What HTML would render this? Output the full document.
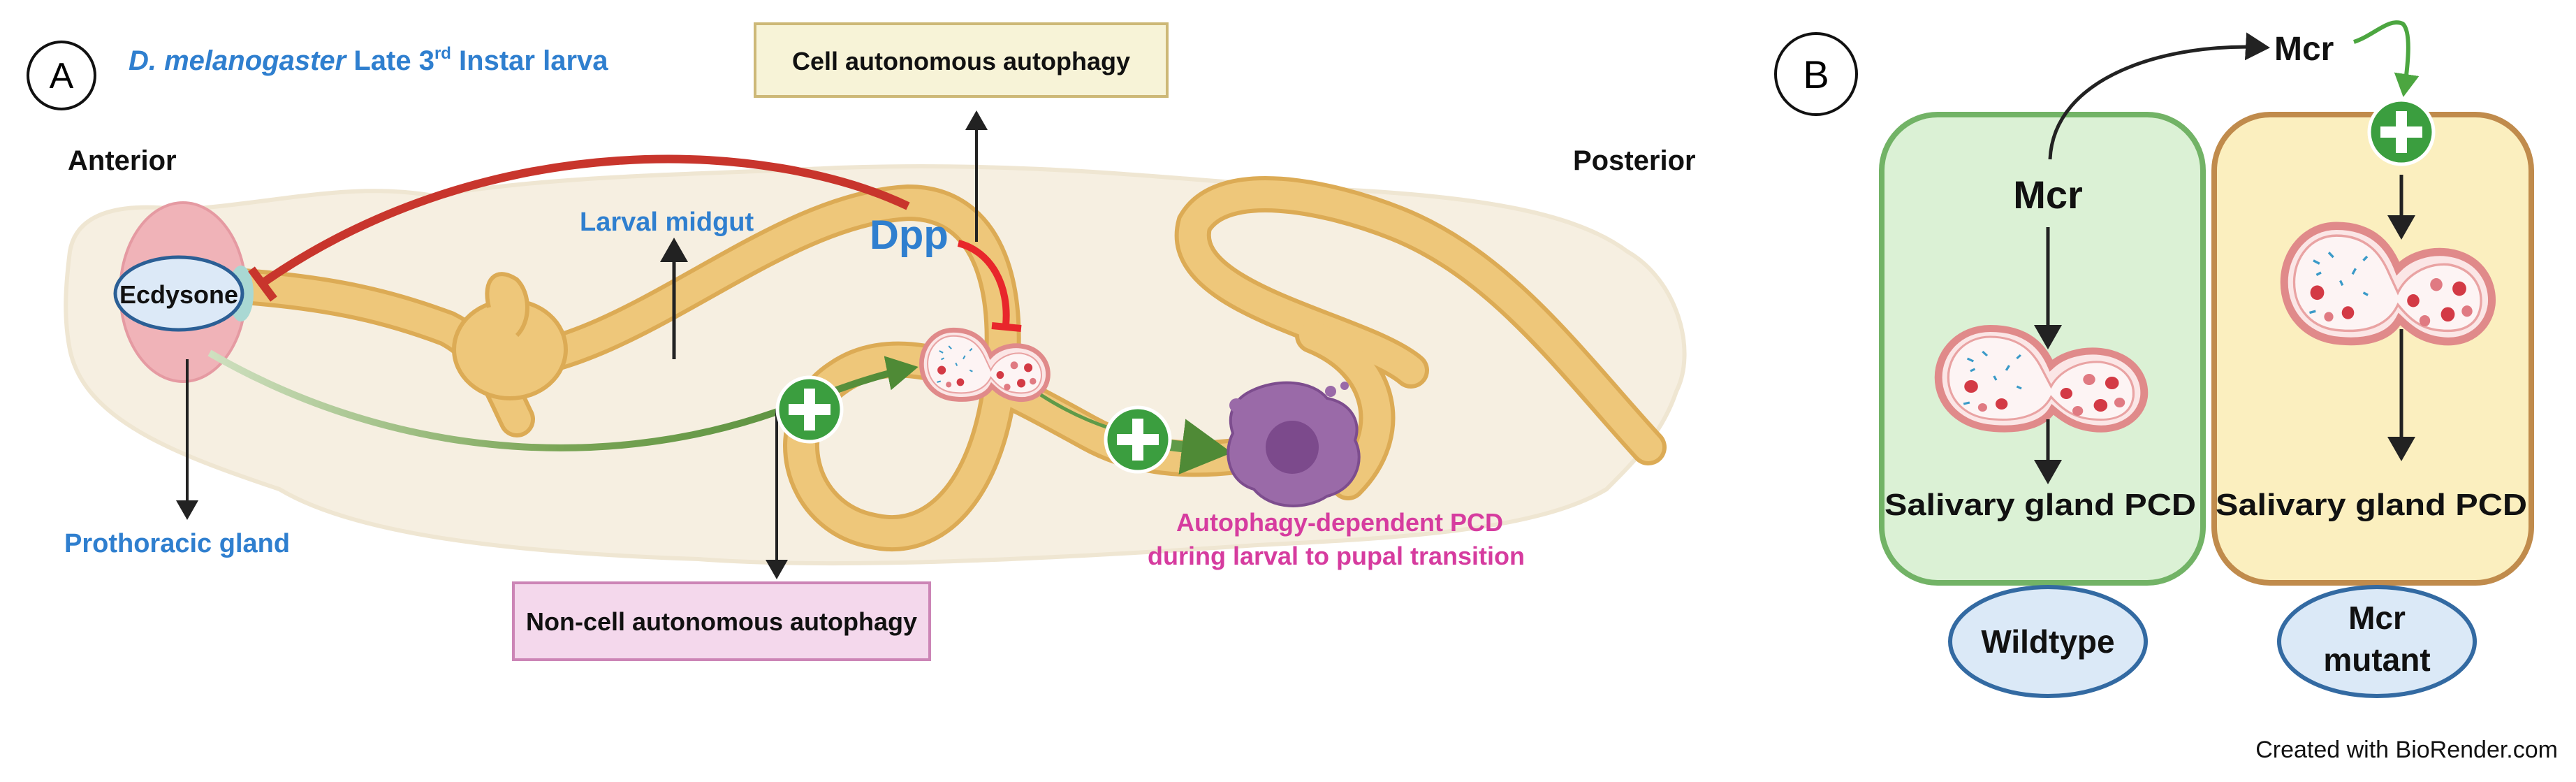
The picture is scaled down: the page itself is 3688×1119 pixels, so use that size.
<!DOCTYPE html>
<html><head><meta charset="utf-8"><style>
html,body{margin:0;padding:0;background:#fff;}
svg{display:block;}
text{font-family:"Liberation Sans",sans-serif;font-weight:bold;}
</style></head><body>
<svg width="3688" height="1119" viewBox="0 0 3688 1119" xmlns="http://www.w3.org/2000/svg">
<defs>
<marker id="ab" markerWidth="8" markerHeight="8" refX="6" refY="4" orient="auto" markerUnits="strokeWidth"><path d="M0,0 L7,4 L0,8 z" fill="#222"/></marker>
<marker id="ag" markerWidth="5" markerHeight="5" refX="3" refY="2.5" orient="auto" markerUnits="strokeWidth"><path d="M0,0 L4.5,2.5 L0,5 z" fill="#4f8a36"/></marker>
<marker id="agl" markerWidth="6" markerHeight="6" refX="4" refY="3" orient="auto" markerUnits="strokeWidth"><path d="M0,0 L5.5,3 L0,6 z" fill="#4ca640"/></marker>
<linearGradient id="gg" x1="0" x2="1" y1="0" y2="0"><stop offset="0" stop-color="#cfe0c0"/><stop offset="0.5" stop-color="#7aa556"/><stop offset="1" stop-color="#4f8a36"/></linearGradient>
<g id="gland">
<path d="M70,2 C120,2 140,30 150,55 C165,40 190,32 215,35 C255,40 275,70 272,100 C268,130 240,150 205,145 C180,142 165,130 152,118 C140,140 110,148 75,145 C30,142 2,110 2,72 C2,35 30,2 70,2 z" fill="#fbe6e6" stroke="#e08a8a" stroke-width="10"/>
<path d="M70,14 C110,14 128,38 138,60 L150,85 C160,65 185,48 215,50 C248,55 260,78 258,100 C255,125 235,135 205,132 C180,130 165,118 150,100 C138,125 110,135 75,132 C38,130 15,105 15,72 C15,40 38,14 70,14 z" fill="#fdf4f4" stroke="#e9a3a3" stroke-width="3"/>
<circle cx="45" cy="85" r="9" fill="#d33a45"/><circle cx="85" cy="110" r="8" fill="#d33a45"/><circle cx="60" cy="115" r="6" fill="#e07a82"/>
<circle cx="170" cy="95" r="8" fill="#d33a45"/><circle cx="200" cy="75" r="8" fill="#e07a82"/><circle cx="230" cy="80" r="9" fill="#d33a45"/><circle cx="215" cy="112" r="9" fill="#d33a45"/><circle cx="240" cy="108" r="7" fill="#e07a82"/><circle cx="185" cy="120" r="7" fill="#e07a82"/>
<path d="M40,45 l8,4 M60,35 l6,6 M95,55 l-4,7 M35,110 l8,-2 M105,85 l6,3 M75,70 l3,6 M110,40 l-5,5 M50,60 l-6,3" stroke="#3a9ac8" stroke-width="3"/>
</g>
<g id="plus">
<circle r="46" fill="#3b9e3f" stroke="#fff" stroke-width="5"/>
<rect x="-30" y="-8" width="60" height="16" fill="#fff"/><rect x="-8" y="-30" width="16" height="60" fill="#fff"/>
</g>
</defs>

<!-- Panel A -->
<circle cx="88" cy="108" r="48" fill="#fff" stroke="#111" stroke-width="4"/>
<text x="88" y="126" font-size="52" font-weight="normal" text-anchor="middle" style="font-weight:normal">A</text>
<text x="184" y="100" font-size="40" fill="#2f7fcf"><tspan font-style="italic">D. melanogaster</tspan> Late 3<tspan font-size="24" dy="-16">rd</tspan><tspan dy="16"> Instar larva</tspan></text>

<!-- larva body -->
<path d="M100,360 C110,300 180,290 260,300 C400,290 500,260 620,280 C800,250 1000,250 1200,240 C1500,230 1700,260 1900,270 C2100,280 2250,300 2330,360 C2400,400 2430,500 2400,560 C2380,620 2340,660 2300,700 C2200,760 2000,770 1800,780 C1500,800 1200,815 1000,800 C700,790 500,760 400,700 C250,650 120,600 100,500 C90,450 95,400 100,360 z" fill="#f6efe1" stroke="#efe6d2" stroke-width="6"/>

<!-- gut -->
<g fill="none" stroke-linecap="round">
<g stroke="#dcab55" stroke-width="52">
<path d="M350,410 C480,420 560,440 640,470 C700,500 720,560 740,600"/>
<path d="M700,520 C900,520 1100,300 1300,290 C1420,290 1450,420 1430,560 C1410,700 1340,780 1250,760 C1140,740 1110,600 1200,540 C1300,470 1450,560 1560,620 C1650,670 1750,660 1850,640"/>
<path d="M2020,530 C1950,470 1680,430 1710,320 C1750,250 1900,280 2000,320 C2150,380 2250,520 2360,640"/>
<path d="M1880,480 C1980,520 2000,620 1930,690"/>
</g>
<g stroke="#eec77a" stroke-width="40">
<path d="M350,410 C480,420 560,440 640,470 C700,500 720,560 740,600"/>
<path d="M700,520 C900,520 1100,300 1300,290 C1420,290 1450,420 1430,560 C1410,700 1340,780 1250,760 C1140,740 1110,600 1200,540 C1300,470 1450,560 1560,620 C1650,670 1750,660 1850,640"/>
<path d="M2020,530 C1950,470 1680,430 1710,320 C1750,250 1900,280 2000,320 C2150,380 2250,520 2360,640"/>
<path d="M1880,480 C1980,520 2000,620 1930,690"/>
</g>
</g>
<ellipse cx="730" cy="500" rx="80" ry="70" fill="#eec77a" stroke="#dcab55" stroke-width="6"/>
<path d="M700,440 C690,400 710,380 740,400 C760,420 760,460 740,480" fill="#eec77a" stroke="#dcab55" stroke-width="6"/>

<!-- prothoracic gland / ecdysone -->
<ellipse cx="262" cy="418" rx="90" ry="128" fill="#f0b3b8" stroke="#e59aa2" stroke-width="4"/>
<ellipse cx="345" cy="420" rx="18" ry="40" fill="#a9d8d3"/>
<ellipse cx="256" cy="420" rx="91" ry="52" fill="#dce9f7" stroke="#2b5f95" stroke-width="5"/>
<text x="256" y="434" font-size="36" text-anchor="middle" fill="#111">Ecdysone</text>

<text x="97" y="243" font-size="40" fill="#111">Anterior</text>
<text x="2252" y="243" font-size="40" fill="#111">Posterior</text>

<!-- red inhibition long -->
<path d="M1300,295 C1100,200 700,180 376,405" fill="none" stroke="#c8352c" stroke-width="12"/>
<line x1="360" y1="385" x2="392" y2="428" stroke="#c8352c" stroke-width="12"/>
<!-- Dpp -->
<text x="1245" y="356" font-size="58" fill="#2f7fcf">Dpp</text>
<path d="M1372,348 C1420,360 1445,410 1440,465" fill="none" stroke="#e8262b" stroke-width="10"/>
<line x1="1420" y1="466" x2="1462" y2="470" stroke="#e8262b" stroke-width="10"/>
<!-- arrow to cell autonomous -->
<line x1="1398" y1="346" x2="1398" y2="162" stroke="#222" stroke-width="4" marker-end="url(#ab)"/>
<rect x="1081" y="34" width="590" height="104" fill="#f7f3d7" stroke="#cdb877" stroke-width="4"/>
<text x="1376" y="100" font-size="36" text-anchor="middle" fill="#111">Cell autonomous autophagy</text>

<!-- larval midgut -->
<text x="830" y="330" font-size="38" fill="#2f7fcf">Larval midgut</text>
<line x1="965" y1="514" x2="965" y2="345" stroke="#222" stroke-width="5" marker-end="url(#ab)"/>

<!-- prothoracic gland label -->
<line x1="268" y1="514" x2="268" y2="740" stroke="#222" stroke-width="4" marker-end="url(#ab)"/>
<text x="92" y="790" font-size="38" fill="#2f7fcf">Prothoracic gland</text>

<!-- green path -->
<path d="M300,505 C550,650 850,680 1110,590 C1180,565 1240,540 1300,528" fill="none" stroke="url(#gg)" stroke-width="10" marker-end="url(#ag)"/>
<line x1="1112" y1="586" x2="1112" y2="825" stroke="#222" stroke-width="4" marker-end="url(#ab)"/>
<use href="#plus" x="1159" y="586"/>
<use href="#gland" transform="translate(1318,471) scale(0.67,0.69)"/>
<path d="M1490,565 C1560,610 1620,625 1700,638" fill="none" stroke="#5f9a48" stroke-width="5"/>
<line x1="1650" y1="634" x2="1740" y2="645" stroke="#5f9a48" stroke-width="16" marker-end="url(#ag)"/>
<use href="#plus" x="1629" y="629"/>

<!-- purple cell -->
<path d="M1790,560 C1830,540 1880,545 1900,570 C1930,575 1950,600 1940,630 C1955,660 1940,700 1900,710 C1870,730 1820,730 1795,700 C1760,690 1750,650 1765,620 C1755,590 1770,570 1790,560 z" fill="#9a6aa8" stroke="#7d4d8e" stroke-width="4"/>
<circle cx="1850" cy="640" r="38" fill="#7c4a8c"/>
<circle cx="1770" cy="580" r="10" fill="#9a6aa8"/><circle cx="1905" cy="560" r="8" fill="#9a6aa8"/><circle cx="1925" cy="552" r="6" fill="#9a6aa8"/>
<text x="1918" y="760" font-size="36" text-anchor="middle" fill="#d63c9f">Autophagy-dependent PCD</text>
<text x="1913" y="808" font-size="36" text-anchor="middle" fill="#d63c9f">during larval to pupal transition</text>

<!-- non-cell box -->
<rect x="735" y="834" width="596" height="110" fill="#f4d8ec" stroke="#cc85b6" stroke-width="4"/>
<text x="1033" y="902" font-size="36" text-anchor="middle" fill="#111">Non-cell autonomous autophagy</text>

<!-- Panel B -->
<circle cx="2600" cy="106" r="58" fill="#fff" stroke="#111" stroke-width="4"/>
<text x="2600" y="126" font-size="56" text-anchor="middle" style="font-weight:normal">B</text>

<rect x="2694" y="164" width="460" height="670" rx="80" fill="#dbf1d5" stroke="#72b366" stroke-width="8"/>
<rect x="3170" y="164" width="454" height="670" rx="80" fill="#fbefbf" stroke="#c08b4c" stroke-width="8"/>

<path d="M2935,228 C2940,110 3100,60 3245,68" fill="none" stroke="#222" stroke-width="5" marker-end="url(#ab)"/>
<text x="3256" y="86" font-size="48" fill="#111">Mcr</text>
<path d="M3370,60 C3400,50 3420,25 3440,34 C3452,45 3448,90 3442,130" fill="none" stroke="#4ca640" stroke-width="6" marker-end="url(#agl)"/>
<use href="#plus" x="3438" y="189"/>

<text x="2932" y="298" font-size="56" text-anchor="middle" fill="#111">Mcr</text>
<line x1="2932" y1="325" x2="2932" y2="495" stroke="#222" stroke-width="5" marker-end="url(#ab)"/>
<use href="#gland" transform="translate(2773,468) scale(1.09,1.0)"/>
<line x1="2932" y1="600" x2="2932" y2="688" stroke="#222" stroke-width="5" marker-end="url(#ab)"/>
<text x="2921" y="737" font-size="44" text-anchor="middle" fill="#111" textLength="446" lengthAdjust="spacingAndGlyphs">Salivary gland PCD</text>

<line x1="3438" y1="250" x2="3438" y2="338" stroke="#222" stroke-width="5" marker-end="url(#ab)"/>
<use href="#gland" transform="translate(3268,321) scale(1.1,1.15)"/>
<line x1="3438" y1="471" x2="3438" y2="655" stroke="#222" stroke-width="5" marker-end="url(#ab)"/>
<text x="3395" y="737" font-size="44" text-anchor="middle" fill="#111" textLength="446" lengthAdjust="spacingAndGlyphs">Salivary gland PCD</text>

<ellipse cx="2932" cy="918" rx="140" ry="78" fill="#dbe9f7" stroke="#336aa2" stroke-width="6"/>
<text x="2932" y="934" font-size="46" text-anchor="middle" fill="#111">Wildtype</text>
<ellipse cx="3403" cy="918" rx="140" ry="78" fill="#dbe9f7" stroke="#336aa2" stroke-width="6"/>
<text x="3403" y="900" font-size="46" text-anchor="middle" fill="#111">Mcr</text>
<text x="3403" y="960" font-size="46" text-anchor="middle" fill="#111">mutant</text>

<text x="3662" y="1084" font-size="34" text-anchor="end" fill="#111" style="font-weight:normal">Created with BioRender.com</text>
</svg>
</body></html>
